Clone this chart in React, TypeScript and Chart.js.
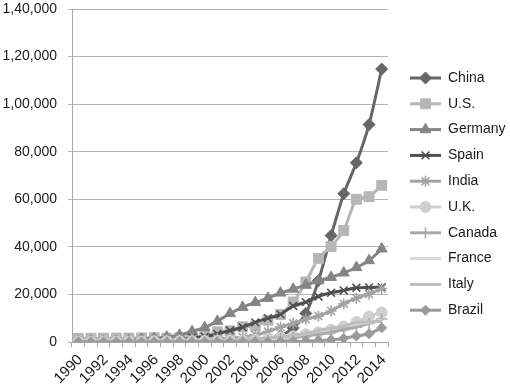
import React, { useEffect, useRef } from 'react';
import { Chart, registerables } from 'chart.js';
import { drawPoint } from 'chart.js/helpers';

Chart.register(...registerables);

// ---- data (installed wind capacity, MW) ----
const years = ['1990', '1991', '1992', '1993', '1994', '1995', '1996', '1997', '1998', '1999', '2000', '2001', '2002', '2003', '2004', '2005', '2006', '2007', '2008', '2009', '2010', '2011', '2012', '2013', '2014'];

const china = [4, 5, 8, 14, 30, 44, 79, 170, 224, 268, 346, 400, 468, 567, 764, 1260, 2599, 5912, 12020, 25805, 44733, 62364, 75324, 91412, 114763];
const us = [1525, 1575, 1590, 1655, 1680, 1730, 1795, 1610, 1820, 2445, 2578, 4275, 4685, 6372, 6725, 9149, 11575, 16824, 25237, 35159, 40200, 46919, 60007, 61091, 65879];
const germany = [56, 106, 174, 326, 618, 1121, 1549, 2089, 2877, 4435, 6104, 8754, 11994, 14609, 16629, 18415, 20622, 22247, 23903, 25777, 27214, 29060, 31332, 34250, 39165];
const spain = [7, 7, 45, 52, 75, 115, 249, 427, 834, 1812, 2235, 3337, 4825, 6203, 8263, 10028, 11623, 15145, 16754, 19149, 20676, 21674, 22796, 22959, 22987];
const india = [39, 39, 39, 79, 185, 576, 820, 940, 1015, 1077, 1220, 1456, 1702, 2125, 3000, 4430, 6270, 7850, 9587, 10925, 13064, 16084, 18421, 20150, 22465];
const uk = [10, 20, 50, 130, 170, 200, 270, 320, 333, 362, 406, 474, 552, 648, 888, 1353, 1963, 2389, 3288, 4070, 5203, 6540, 8445, 10711, 12440];
const canada = [0, 0, 0, 0, 0, 21, 21, 25, 82, 126, 137, 198, 236, 322, 444, 683, 1460, 1846, 2369, 3319, 4008, 5265, 6200, 7803, 9694];
const france = [0, 0, 0, 0, 3, 7, 10, 13, 19, 25, 66, 93, 148, 257, 390, 757, 1567, 2454, 3404, 4574, 5660, 6800, 7564, 8254, 9285];
const italy = [0, 0, 0, 0, 22, 25, 70, 103, 180, 277, 427, 682, 788, 905, 1266, 1718, 2123, 2726, 3537, 4850, 5797, 6747, 8144, 8551, 8663];
const brazil = [0, 0, 0, 0, 0, 0, 0, 3, 17, 19, 22, 24, 24, 24, 29, 29, 237, 247, 341, 606, 932, 1509, 2508, 3466, 5939];

const seriesNames = ['China', 'U.S.', 'Germany', 'Spain', 'India', 'U.K.', 'Canada', 'France', 'Italy', 'Brazil'];
const seriesValues = [china, us, germany, spain, india, uk, canada, france, italy, brazil];

const yTicks = [0, 20000, 40000, 60000, 80000, 100000, 120000, 140000];

// ---- styles ----
const seriesColors = ['#666666', '#b6b6b6', '#858585', '#4f4f4f', '#a3a3a3', '#cfcfcf', '#a9a9a9', '#d9d9d9', '#bcbcbc', '#9a9a9a'];
const seriesMarkers: (string | false)[] = ['rectRot', 'rect', 'triangle', 'crossRot', 'star', 'circle', 'cross', false, false, 'rectRot'];
const markerSizes = [6, 7, 6.3, 5.5, 5.5, 5.5, 5.5, 0, 0, 5];

const FONT = "'Liberation Sans', Arial, sans-serif";

function fmtIN(v: number): string {
  const s = String(Math.round(v));
  if (s.length <= 3) return s;
  const last3 = s.slice(-3);
  let rest = s.slice(0, -3);
  const parts: string[] = [];
  while (rest.length > 2) {
    parts.unshift(rest.slice(-2));
    rest = rest.slice(0, -2);
  }
  if (rest) parts.unshift(rest);
  return parts.join(',') + ',' + last3;
}

const sideLegend = {
  id: 'sideLegend',
  afterDraw(chart: any) {
    const ctx = chart.ctx as CanvasRenderingContext2D;
    const x0 = chart.chartArea.right + 22;
    const lineW = 31;
    const top = 78;
    const step = 25.8;
    ctx.save();
    chart.data.datasets.forEach((ds: any, i: number) => {
      const y = top + i * step;
      ctx.strokeStyle = ds.borderColor;
      ctx.lineWidth = 3;
      ctx.beginPath();
      ctx.moveTo(x0, y);
      ctx.lineTo(x0 + lineW, y);
      ctx.stroke();
      if (ds.pointRadius > 0) {
        ctx.fillStyle = ds.pointBackgroundColor;
        ctx.strokeStyle = ds.pointBorderColor;
        ctx.lineWidth = ds.pointBorderWidth;
        drawPoint(ctx, { pointStyle: ds.pointStyle, radius: ds.pointRadius, borderWidth: ds.pointBorderWidth, rotation: 0 } as any, x0 + lineW / 2, y);
      }
      ctx.fillStyle = '#1a1a1a';
      ctx.font = `14px ${FONT}`;
      ctx.textBaseline = 'middle';
      ctx.textAlign = 'left';
      ctx.fillText(ds.label, x0 + lineW + 7, y);
    });
    ctx.restore();
  },
};

export default function App() {
  const ref = useRef<HTMLCanvasElement>(null);
  useEffect(() => {
    document.body.style.margin = '0';
    Chart.defaults.font.family = FONT;
    const datasets = seriesNames.map((name, i) => {
      const marker = seriesMarkers[i];
      const lineMarker = marker === 'crossRot' || marker === 'star' || marker === 'cross';
      return {
        label: name,
        data: seriesValues[i],
        borderColor: seriesColors[i],
        backgroundColor: seriesColors[i],
        borderWidth: 3,
        tension: 0.25,
        pointStyle: marker || 'circle',
        pointRadius: marker ? markerSizes[i] : 0,
        pointHoverRadius: marker ? markerSizes[i] : 0,
        pointBackgroundColor: seriesColors[i],
        pointBorderColor: seriesColors[i],
        pointBorderWidth: lineMarker ? 1.6 : 1,
        order: seriesNames.length - i,
        fill: false,
      };
    });
    const chart = new Chart(ref.current!, {
      type: 'line',
      data: { labels: years, datasets },
      plugins: [sideLegend],
      options: {
        responsive: false,
        animation: false,
        events: [],
        layout: { padding: { left: 0, right: 122, top: 9, bottom: 0 } },
        plugins: { legend: { display: false }, tooltip: { enabled: false } },
        scales: {
          x: {
            offset: true,
            grid: { offset: true, drawOnChartArea: false, drawTicks: true, tickLength: 5, color: '#a6a6a6', lineWidth: 1 },
            border: { display: true, color: '#a6a6a6', width: 1 },
            ticks: {
              autoSkip: false,
              minRotation: 45,
              maxRotation: 45,
              padding: 4,
              labelOffset: 2,
              color: '#1a1a1a',
              font: { size: 15, family: FONT },
              callback: (_v: any, idx: number) => (idx % 2 === 0 ? years[idx] : ''),
            },
            afterFit: (s: any) => { s.height = 43; s.paddingLeft = 0; s.paddingRight = 0; },
          },
          y: {
            min: yTicks[0],
            max: yTicks[yTicks.length - 1],
            afterBuildTicks: (s: any) => { s.ticks = yTicks.map((v) => ({ value: v })); },
            grid: { color: '#b3b3b3', lineWidth: 1, tickLength: 4, drawTicks: true },
            border: { display: true, color: '#a6a6a6', width: 1 },
            ticks: {
              padding: 11,
              color: '#1a1a1a',
              font: { size: 14, family: FONT },
              callback: (v: any) => fmtIN(Number(v)),
            },
            afterFit: (s: any) => { s.width = 72; s.paddingTop = 0; s.paddingBottom = 0; },
          },
        },
      },
    });
    return () => chart.destroy();
  }, []);
  return (
    <div style={{ width: 510, height: 385, position: 'relative' }}>
      <canvas ref={ref} width={510} height={385} style={{ display: 'block' }} />
    </div>
  );
}
